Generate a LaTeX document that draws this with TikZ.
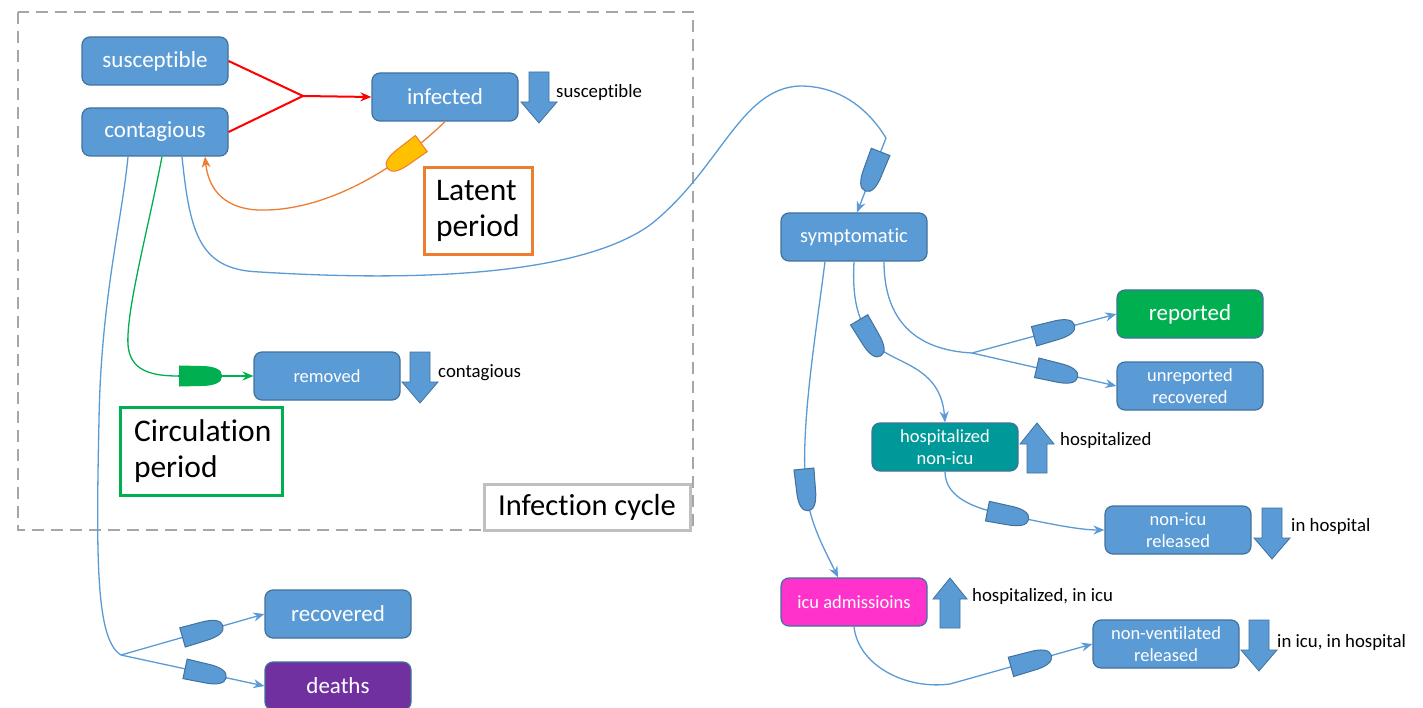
\documentclass[tikz,border=0pt]{standalone}
\usepackage{fontspec}
\setmainfont{Carlito}[Ligatures={NoCommon}]
\usetikzlibrary{arrows.meta,decorations.markings}
\definecolor{mblue}{HTML}{5B9BD5}
\definecolor{bblue}{HTML}{41719C}
\definecolor{mgreen}{HTML}{00B050}
\definecolor{morange}{HTML}{ED7D31}
\definecolor{mgold}{HTML}{FFC000}
\definecolor{mteal}{HTML}{009999}
\definecolor{mpink}{HTML}{FF33CC}
\definecolor{mpurple}{HTML}{7030A0}
\definecolor{mgray}{HTML}{A6A6A6}
\definecolor{lgray}{HTML}{BFBFBF}
\newcommand\fs[2]{\fontsize{#1}{#2}\selectfont}
\newcommand\gateshape[1]{\filldraw[#1] (-21,-10) -- (0,-9.5) .. controls (14,-9.5) and (21,-6) .. (21,0) .. controls (21,6) and (14,9.5) .. (0,9.5) -- (-21,10) -- cycle;}
\tikzset{
  box/.style={rectangle, rounded corners=8pt, minimum width=146pt, minimum height=48pt,
    draw=bblue, line width=1.2pt, fill=#1, text=white, font=\fs{23}{27}, align=center, inner sep=2pt},
  box/.default=mblue,
  small/.style={font=\fs{18.5}{22}},
  lbl/.style={anchor=west, font=\fs{18.8}{22}, inner sep=1pt},
  tbox/.style={rectangle, fill=white, line width=3pt, font=\fs{31.5}{36}, align=left, inner sep=0pt},
  cyclebox/.style={draw=mgray, line width=2.2pt, dash pattern=on 12pt off 7pt},
  flow/.style={draw=mblue, line width=1.3pt},
  flowarrow/.style={flow, -{Stealth[length=11pt,width=9pt]}},
  redline/.style={draw=red, line width=2pt},
  oline/.style={draw=morange, line width=1.3pt},
  gline/.style={draw=mgreen, line width=1.3pt},
  bgate/.style={postaction={decorate,decoration={markings,mark=at position #1 with {\gateshape{fill=mblue,draw=bblue,line width=1pt}}}}},
  ogate/.style={postaction={decorate,decoration={markings,mark=at position #1 with {\gateshape{fill=mgold,draw=morange,line width=1pt}}}}},
  ggate/.style={postaction={decorate,decoration={markings,mark=at position #1 with {\gateshape{fill=mgreen,draw=mgreen,line width=1pt}}}}},
  blk/.style={fill=mblue, draw=bblue, line width=0.8pt},
  downblk/.pic={\filldraw[blk] (-10,0) -- (10,0) -- (10,30) -- (18,30) -- (0,51) -- (-18,30) -- (-10,30) -- cycle;},
  upblk/.pic={\filldraw[blk] (0,0) -- (17,21) -- (10,21) -- (10,50) -- (-10,50) -- (-10,21) -- (-17,21) -- cycle;}
}
\begin{document}
\begin{tikzpicture}[x=1pt,y=-1pt]
\useasboundingbox (0,0) rectangle (1423,708);
\fill[white] (0,0) rectangle (1423,708);

\draw[cyclebox] (18,12) rectangle (693,530);

% nodes
\node[box] (sus) at (155,61) {susceptible};
\node[box] (con) at (155,132) {contagious};
\node[box] (inf) at (445,97) {infected};
\node[box, small] (rem) at (327,376) {removed};
\node[box] (rec) at (338,614) {recovered};
\node[box=mpurple] (dea) at (338,686) {deaths};
\node[box, font=\fs{20.5}{24}] (sym) at (854,237) {symptomatic};
\node[box=mgreen] (rep) at (1190,314) {reported};
\node[box, small] (unr) at (1190,386) {unreported\\recovered};
\node[box=mteal, small] (hos) at (945,447) {hospitalized\\non-icu};
\node[box, small] (nir) at (1178,530) {non-icu\\released};
\node[box=mpink, small] (icu) at (854,602) {icu admissioins};
\node[box, small] (nvr) at (1166,644) {non-ventilated\\released};

% text boxes
\node[tbox, draw=morange, minimum width=108pt, minimum height=87pt, text width=84pt] (lat) at (478,211) {Latent\\period};
\node[tbox, draw=mgreen, minimum width=162pt, minimum height=88pt, text width=134pt] (cir) at (201,451) {Circulation\\period};
\node[tbox, draw=lgray, minimum width=206pt, minimum height=46pt, font=\fs{30.5}{34}, align=center] (ic) at (587,507) {Infection cycle};

% block arrows and labels
\pic at (539,72) {downblk};
\node[lbl] (l1) at (555,92) {susceptible};
\pic at (420,352) {downblk};
\node[lbl] (l2) at (437,373) {contagious};
\pic at (1037,423) {upblk};
\node[lbl] (l3) at (1059,440) {hospitalized};
\pic at (1272,508) {downblk};
\node[lbl] (l4) at (1290,526) {in hospital};
\pic at (950,578) {upblk};
\node[lbl] (l5) at (971,596) {hospitalized, in icu};
\pic at (1259,620) {downblk};
\node[lbl] (l6) at (1276,642) {in icu, in hospital};

% red infection
\coordinate (rj) at (303,96);
\draw[redline] (sus.east) -- (rj);
\draw[redline] (con.east) -- (rj);
\draw[redline, -{Stealth[length=11pt,width=9pt]}] (rj) -- (inf.west);

% orange latent
\draw[oline, -{Stealth[length=11pt,width=9pt]}, ogate=0.18] (inf.south) .. controls (390,175) and (320,212) .. (258,210) .. controls (220,208) and (208,185) .. ([xshift=50pt]con.south);

% green circulation
\coordinate (gg) at (178,376);
\draw[gline] ([xshift=7pt]con.south) .. controls (148,230) and (126,310) .. (128,345) .. controls (130,370) and (150,376) .. (gg);
\draw[gline, -{Stealth[length=11pt,width=9pt]}, ggate=0.3] (gg) -- (rem.west);

% left blue to recovered / deaths
\coordinate (jl) at (121,655);
\draw[flow] ([xshift=-27pt]con.south) .. controls (122,220) and (101,300) .. (99,420) .. controls (96,560) and (96,640) .. (jl);
\draw[flowarrow, bgate=0.57] (jl) -- (rec.west);
\draw[flowarrow, bgate=0.59] (jl) -- (dea.west);

% big curve to symptomatic
\coordinate (cusp) at (886,138);
\draw[flow] ([xshift=27pt]con.south) .. controls (190,235) and (200,270) .. (260,272) .. controls (420,282) and (580,275) .. (650,225) .. controls (720,170) and (740,88) .. (800,86) .. controls (845,86) and (872,115) .. (cusp);
\draw[flowarrow, bgate=0.45] (cusp) -- ([xshift=3pt]sym.north);

% symptomatic outflows
\draw[flowarrow, bgate=0.71] ([xshift=-29pt]sym.south) .. controls (815,340) and (800,430) .. (806,490) .. controls (810,525) and (825,550) .. ([xshift=-16pt]icu.north);
\draw[flowarrow, bgate=0.4] (sym.south) .. controls (852,300) and (858,318) .. (870,338) .. controls (885,365) and (940,360) .. (hos.north);
\coordinate (jr) at (972,353);
\draw[flow] ([xshift=30pt]sym.south) .. controls (884,320) and (915,350) .. (jr);
\draw[flowarrow, bgate=0.57] (jr) -- (rep.west);
\draw[flowarrow, bgate=0.59] (jr) -- (unr.west);

% hospital flows
\draw[flowarrow, bgate=0.46] (hos.south) .. controls (945,500) and (980,510) .. (1012,516) .. controls (1050,524) and (1080,530) .. (nir.west);
\coordinate (jb) at (950,684);
\draw[flow] (icu.south) .. controls (858,665) and (905,690) .. (jb);
\draw[flowarrow, bgate=0.57] (jb) -- (nvr.west);
\end{tikzpicture}
\end{document}
